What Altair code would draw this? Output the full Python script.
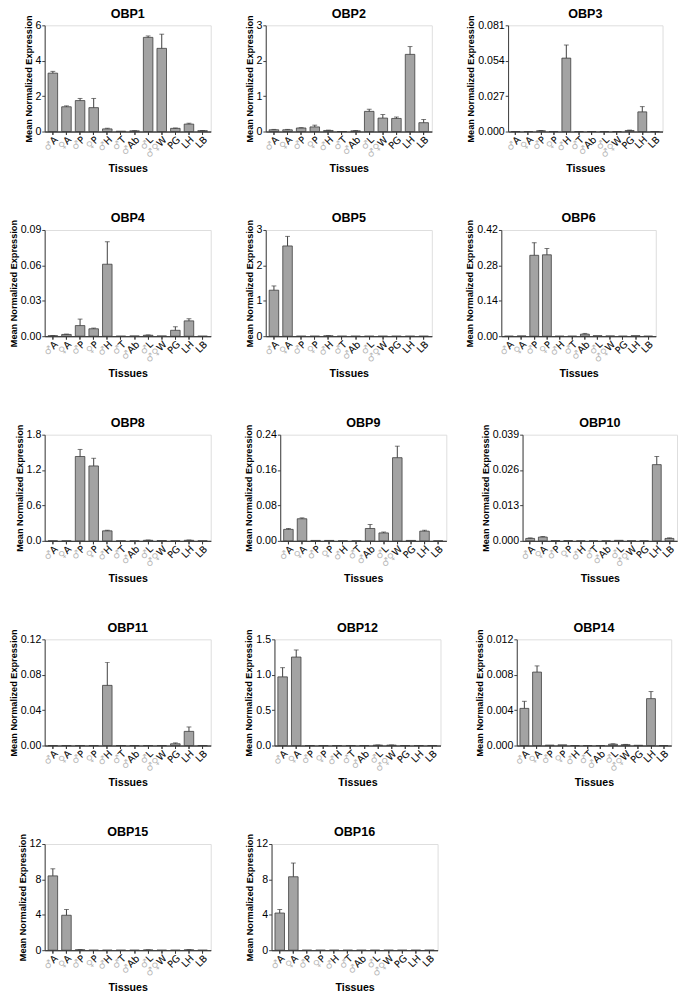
import altair as alt
import pandas as pd

tissues = ["♂A", "♀A", "♂P", "♀P", "♂H", "♂T", "♂Ab", "♂L", "♂♀W", "PG", "LH", "LB"]

obp1_mean = [3.30, 1.40, 1.75, 1.35, 0.15, 0.02, 0.04, 5.32, 4.70, 0.18, 0.42, 0.05]
obp1_err = [0.10, 0.05, 0.12, 0.52, 0.03, 0.00, 0.01, 0.08, 0.80, 0.02, 0.05, 0.01]
obp2_mean = [0.05, 0.05, 0.10, 0.13, 0.03, 0.00, 0.02, 0.57, 0.38, 0.37, 2.18, 0.25]
obp2_err = [0.01, 0.01, 0.01, 0.05, 0.01, 0.00, 0.01, 0.06, 0.10, 0.04, 0.22, 0.09]
obp3_mean = [0.0, 0.0, 0.0006, 0.0, 0.056, 0.0, 0.0, 0.0, 0.0, 0.0008, 0.015, 0.0]
obp3_err = [0.0, 0.0, 0.0002, 0.0, 0.010, 0.0, 0.0, 0.0, 0.0, 0.0003, 0.004, 0.0]
obp4_mean = [0.0004, 0.0015, 0.009, 0.0063, 0.061, 0.0, 0.0002, 0.0008, 0.0002, 0.005, 0.013, 0.0]
obp4_err = [0.0001, 0.0003, 0.0055, 0.0006, 0.019, 0.0, 0.0, 0.0003, 0.0, 0.003, 0.0018, 0.0]
obp5_mean = [1.30, 2.55, 0.0, 0.0, 0.01, 0.0, 0.0, 0.0, 0.0, 0.0, 0.0, 0.0]
obp5_err = [0.12, 0.27, 0.0, 0.0, 0.005, 0.0, 0.0, 0.0, 0.0, 0.0, 0.0, 0.0]
obp6_mean = [0.0, 0.001, 0.32, 0.322, 0.0, 0.0, 0.008, 0.002, 0.001, 0.0, 0.002, 0.0]
obp6_err = [0.0, 0.0, 0.05, 0.025, 0.0, 0.0, 0.003, 0.0, 0.0, 0.0, 0.0, 0.0]
obp8_mean = [0.0, 0.0, 1.43, 1.27, 0.17, 0.0, 0.0, 0.01, 0.005, 0.0, 0.01, 0.0]
obp8_err = [0.0, 0.0, 0.12, 0.13, 0.01, 0.0, 0.0, 0.005, 0.0, 0.0, 0.005, 0.0]
obp9_mean = [0.026, 0.050, 0.001, 0.001, 0.0, 0.0, 0.028, 0.018, 0.188, 0.001, 0.022, 0.0]
obp9_err = [0.002, 0.002, 0.0, 0.0, 0.0, 0.0, 0.009, 0.002, 0.026, 0.0, 0.002, 0.0]
obp10_mean = [0.0009, 0.0014, 0.0001, 0.0001, 0.0, 0.0, 0.0, 0.0002, 0.0, 0.0, 0.0280, 0.0009]
obp10_err = [0.0002, 0.0002, 0.0, 0.0, 0.0, 0.0, 0.0, 0.0, 0.0, 0.0, 0.0030, 0.0002]
obp11_mean = [0.0, 0.0, 0.0, 0.0, 0.068, 0.0, 0.0, 0.0, 0.0, 0.002, 0.016, 0.0]
obp11_err = [0.0, 0.0, 0.0, 0.0, 0.026, 0.0, 0.0, 0.0, 0.0, 0.001, 0.005, 0.0]
obp12_mean = [0.97, 1.25, 0.0, 0.0, 0.0, 0.0, 0.0, 0.006, 0.006, 0.0, 0.0, 0.0]
obp12_err = [0.13, 0.10, 0.0, 0.0, 0.0, 0.0, 0.0, 0.002, 0.002, 0.0, 0.0, 0.0]
obp14_mean = [0.0042, 0.0083, 0.00005, 0.00008, 0.0, 0.0, 0.0, 0.00015, 0.0001, 0.00003, 0.0053, 0.0]
obp14_err = [0.0008, 0.0007, 0.0, 0.0, 0.0, 0.0, 0.0, 0.00005, 0.00003, 0.0, 0.0008, 0.0]
obp15_mean = [8.40, 3.95, 0.05, 0.0, 0.0, 0.0, 0.0, 0.03, 0.0, 0.0, 0.04, 0.0]
obp15_err = [0.80, 0.65, 0.02, 0.0, 0.0, 0.0, 0.0, 0.01, 0.0, 0.0, 0.02, 0.0]
obp16_mean = [4.20, 8.30, 0.0, 0.0, 0.0, 0.0, 0.0, 0.0, 0.0, 0.0, 0.0, 0.0]
obp16_err = [0.40, 1.55, 0.0, 0.0, 0.0, 0.0, 0.0, 0.0, 0.0, 0.0, 0.0, 0.0]

panels = [
    ("OBP1", obp1_mean, obp1_err, [0, 2, 4, 6], "d"),
    ("OBP2", obp2_mean, obp2_err, [0, 1, 2, 3], "d"),
    ("OBP3", obp3_mean, obp3_err, [0, 0.027, 0.054, 0.081], ".3f"),
    ("OBP4", obp4_mean, obp4_err, [0, 0.03, 0.06, 0.09], ".2f"),
    ("OBP5", obp5_mean, obp5_err, [0, 1, 2, 3], "d"),
    ("OBP6", obp6_mean, obp6_err, [0, 0.14, 0.28, 0.42], ".2f"),
    ("OBP8", obp8_mean, obp8_err, [0, 0.6, 1.2, 1.8], ".1f"),
    ("OBP9", obp9_mean, obp9_err, [0, 0.08, 0.16, 0.24], ".2f"),
    ("OBP10", obp10_mean, obp10_err, [0, 0.013, 0.026, 0.039], ".3f"),
    ("OBP11", obp11_mean, obp11_err, [0, 0.04, 0.08, 0.12], ".2f"),
    ("OBP12", obp12_mean, obp12_err, [0, 0.5, 1.0, 1.5], ".1f"),
    ("OBP14", obp14_mean, obp14_err, [0, 0.004, 0.008, 0.012], ".3f"),
    ("OBP15", obp15_mean, obp15_err, [0, 4, 8, 12], "d"),
    ("OBP16", obp16_mean, obp16_err, [0, 4, 8, 12], "d"),
]

FONT = "Liberation Sans"
LABEL_FONT = "DejaVu Sans"
DARK = "#3a3a3a"
col_widths = [172, 172, 160]


def make_panel(name, mean, err, ticks, fmt, width):
    df = pd.DataFrame({"tissue": tissues, "mean": mean, "err": err})
    df["top"] = df["mean"] + df["err"]
    base = alt.Chart(df)
    xs = alt.Scale(domain=tissues, paddingInner=0.3, paddingOuter=0.25)
    ys = alt.Scale(domain=[ticks[0], ticks[-1]], nice=False, zero=True)
    yax = alt.Axis(values=ticks, format=fmt, title="Mean Normalized Expression",
                   grid=False, domainColor=DARK, tickColor=DARK, tickSize=3,
                   labelPadding=1, titlePadding=2, labelFontSize=11, titleFontSize=9.5)
    common_x = dict(orient="bottom", labelAngle=315, labelAlign="right",
                    labelBaseline="top", labelOverlap=False, tickSize=3,
                    labelPadding=0, domainColor=DARK, tickColor=DARK, grid=False,
                    labelFontSize=10, labelFont=LABEL_FONT)
    bars = base.mark_bar(fill="#a3a3a3", stroke=DARK, strokeWidth=0.8).encode(
        x=alt.X("tissue:N", sort=tissues, scale=xs,
                axis=alt.Axis(title="Tissues", labelColor="#b8b8b8", **common_x)),
        y=alt.Y("mean:Q", scale=ys, axis=yax),
    )
    rules = base.transform_filter("datum.err > 0").mark_rule(color=DARK, strokeWidth=1).encode(
        x=alt.X("tissue:N", sort=tissues, scale=xs,
                axis=alt.Axis(title=None, labelColor="#111111", zindex=1,
                              labelExpr="replace(replace(datum.label, '♂', ''), '♀', '')",
                              **common_x)),
        y=alt.Y("mean:Q", scale=ys, axis=yax),
        y2="top:Q",
    )
    caps = base.transform_filter("datum.err > 0").mark_tick(
        color=DARK, thickness=1, size=5).encode(
        x=alt.X("tissue:N", sort=tissues, scale=xs, axis=None),
        y=alt.Y("top:Q", scale=ys, axis=yax),
    )
    return alt.layer(bars, rules, caps).resolve_axis(x="independent").properties(
        title=alt.TitleParams(name, offset=-6), width=width, height=110)


rows = []
for r in range(0, len(panels), 3):
    row_charts = [make_panel(*p, col_widths[i]) for i, p in enumerate(panels[r:r + 3])]
    rows.append(alt.hconcat(*row_charts, spacing=33))

chart = alt.vconcat(*rows, spacing=38).configure_view(stroke=None).configure_axis(
    labelFont=FONT, labelFontWeight="bold", labelColor="#111111",
    titleFont=FONT, titleFontWeight="bold", titleColor="#111111",
    grid=False,
).configure_axisX(titleFontSize=11, titlePadding=2).configure_title(
    font=FONT, fontWeight="bold", fontSize=12, color="#111111",
).configure(padding={"left": 0, "top": -19, "right": 0, "bottom": 0})

chart.save("out.html", embed_options={"renderer": "svg", "actions": False})
